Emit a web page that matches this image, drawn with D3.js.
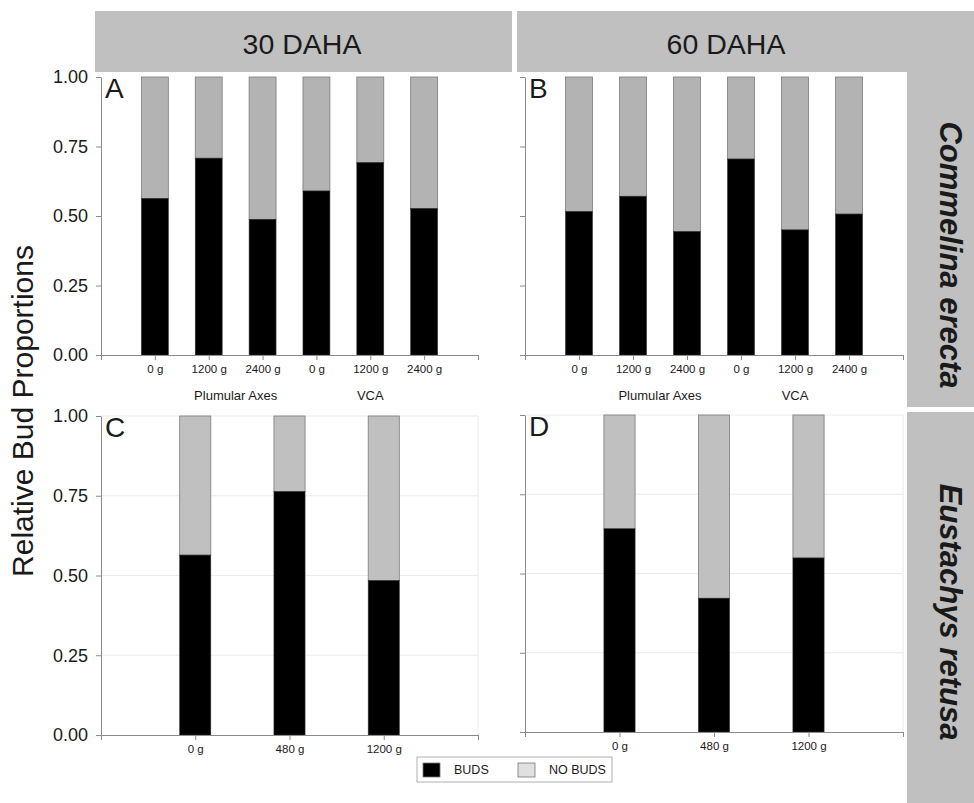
<!DOCTYPE html>
<html>
<head>
<meta charset="utf-8">
<script src="https://cdn.jsdelivr.net/npm/d3@7"></script>
<style>
  html, body { margin: 0; padding: 0; background: #fff; }
  svg { display: block; font-family: 'Liberation Sans', Arial, sans-serif; }
</style>
</head>
<body>
<script>
// Data
const doseLabelsTop = ['0 g', '1200 g', '2400 g', '0 g', '1200 g', '2400 g']
const doseLabelsBottom = ['0 g', '480 g', '1200 g']
const budsA = [0.563, 0.708, 0.488, 0.590, 0.692, 0.527]
const budsB = [0.516, 0.571, 0.444, 0.705, 0.450, 0.507]
const budsC = [0.564, 0.763, 0.484]
const budsD = [0.641, 0.422, 0.549]
const yTicks = [0, 0.25, 0.5, 0.75, 1]
const groupLabels = [{ label: 'Plumular Axes', pos: 2.5 }, { label: 'VCA', pos: 5 }]
const columnTitles = ['30 DAHA', '60 DAHA']
const rowTitles = ['Commelina erecta', 'Eustachys retusa']
const legendItems = ['BUDS', 'NO BUDS']

const W = 974
const H = 803

const svg = d3.select('body').append('svg')
  .attr('width', W)
  .attr('height', H)

// Header strips
const stripColor = '#c0c0c0'
svg.append('rect').attr('x', 95).attr('y', 11).attr('width', 417).attr('height', 61).attr('fill', stripColor)
svg.append('rect').attr('x', 517).attr('y', 11).attr('width', W - 517).attr('height', 61).attr('fill', stripColor)
svg.append('rect').attr('x', 907).attr('y', 72).attr('width', W - 907).attr('height', 335).attr('fill', stripColor)
svg.append('rect').attr('x', 907).attr('y', 412).attr('width', W - 907).attr('height', H - 412).attr('fill', stripColor)

svg.selectAll('.col-title')
  .data(columnTitles)
  .enter().append('text')
  .attr('x', (d, i) => i === 0 ? 302 : 726)
  .attr('y', 54)
  .attr('text-anchor', 'middle')
  .attr('fill', '#1a1a1a')
  .style('font-size', '28.5px')
  .text(d => d)

svg.selectAll('.row-title')
  .data(rowTitles)
  .enter().append('text')
  .attr('transform', (d, i) => `translate(940, ${i === 0 ? 255 : 612}) rotate(90)`)
  .attr('text-anchor', 'middle')
  .attr('fill', '#1a1a1a')
  .style('font-size', '31px')
  .style('font-weight', 'bold')
  .style('font-style', 'italic')
  .text(d => d)

// Y axis title
svg.append('text')
  .attr('transform', 'translate(33, 411) rotate(-90)')
  .attr('text-anchor', 'middle')
  .attr('fill', '#1a1a1a')
  .style('font-size', '30px')
  .text('Relative Bud Proportions')

const panels = [
  { letter: 'A', buds: budsA, labels: doseLabelsTop, left: 101, right: 478, top: 77, bottom: 355, barFrac: 0.5, grey: '#b3b3b3', grid: false, yLabels: true, groups: true },
  { letter: 'B', buds: budsB, labels: doseLabelsTop, left: 525, right: 903, top: 77, bottom: 355, barFrac: 0.5, grey: '#b3b3b3', grid: false, yLabels: false, groups: true },
  { letter: 'C', buds: budsC, labels: doseLabelsBottom, left: 101, right: 478, top: 416, bottom: 735, barFrac: 0.33, grey: '#c0c0c0', grid: true, yLabels: true, groups: false },
  { letter: 'D', buds: budsD, labels: doseLabelsBottom, left: 525, right: 903, top: 415, bottom: 732, barFrac: 0.33, grey: '#c0c0c0', grid: true, yLabels: false, groups: false }
]

panels.forEach(p => {
  const n = p.buds.length
  const x = d3.scaleLinear().domain([0, n + 1]).range([p.left, p.right])
  const y = d3.scaleLinear().domain([0, 1]).range([p.bottom, p.top])
  const barW = (x(1) - x(0)) * p.barFrac
  const g = svg.append('g')

  if (p.grid) {
    g.selectAll('.grid')
      .data(yTicks.filter(d => d > 0))
      .enter().append('line')
      .attr('x1', p.left).attr('x2', p.right)
      .attr('y1', d => y(d)).attr('y2', d => y(d))
      .attr('stroke', '#ebebeb')
    g.append('line')
      .attr('x1', p.right).attr('x2', p.right)
      .attr('y1', y(0)).attr('y2', y(1))
      .attr('stroke', '#ebebeb')
  }

  // stacked bars: buds (black) below, no buds (grey) above
  g.selectAll('.nobuds')
    .data(p.buds)
    .enter().append('rect')
    .attr('x', (d, i) => x(i + 1) - barW / 2)
    .attr('y', y(1))
    .attr('width', barW)
    .attr('height', d => y(d) - y(1))
    .attr('fill', p.grey)
    .attr('stroke', '#7a7a7a')
    .attr('stroke-width', 0.8)

  g.selectAll('.buds')
    .data(p.buds)
    .enter().append('rect')
    .attr('x', (d, i) => x(i + 1) - barW / 2)
    .attr('y', d => y(d))
    .attr('width', barW)
    .attr('height', d => y(0) - y(d))
    .attr('fill', '#000')
    .attr('stroke', '#333')
    .attr('stroke-width', 0.6)

  // axes
  const yAxis = d3.axisLeft(y)
    .tickValues(yTicks)
    .tickSize(5)
    .tickSizeOuter(0)
    .tickFormat(p.yLabels ? d3.format('.2f') : () => '')
  const ya = g.append('g').attr('transform', `translate(${p.left}, 0)`).call(yAxis)
  ya.select('.domain').attr('stroke', '#8a8a8a')
  ya.selectAll('.tick line').attr('stroke', '#8a8a8a')
  ya.selectAll('.tick text')
    .attr('x', -13)
    .attr('fill', '#1a1a1a')
    .style('font-size', '18px')
    .style('font-family', "'Liberation Sans', Arial, sans-serif")

  const xAxis = d3.axisBottom(x)
    .tickValues(d3.range(n + 2))
    .tickSize(5)
    .tickSizeOuter(0)
    .tickFormat(i => (i >= 1 && i <= n) ? p.labels[i - 1] : '')
  const xa = g.append('g').attr('transform', `translate(0, ${p.bottom})`).call(xAxis)
  xa.select('.domain').attr('stroke', '#8a8a8a')
  xa.selectAll('.tick line').attr('stroke', '#8a8a8a')
  xa.selectAll('.tick text')
    .attr('y', 10)
    .attr('fill', '#1a1a1a')
    .style('font-size', '11.5px')
    .style('font-family', "'Liberation Sans', Arial, sans-serif")

  if (p.groups) {
    g.selectAll('.group')
      .data(groupLabels)
      .enter().append('text')
      .attr('x', d => x(d.pos))
      .attr('y', p.bottom + 45)
      .attr('text-anchor', 'middle')
      .attr('fill', '#1a1a1a')
      .style('font-size', '13px')
      .text(d => d.label)
  }

  g.append('text')
    .attr('x', p.left + 4)
    .attr('y', p.top + 21)
    .attr('fill', '#1a1a1a')
    .style('font-size', '28px')
    .text(p.letter)
})

// Legend
const legend = svg.append('g').attr('transform', 'translate(417, 757)')
legend.append('rect')
  .attr('width', 195).attr('height', 25)
  .attr('fill', '#fff').attr('stroke', '#b0b0b0')
const legendColors = ['#000', '#e0e0e0']
const legendX = [6, 101]
legendItems.forEach((label, i) => {
  legend.append('rect')
    .attr('x', legendX[i]).attr('y', 6)
    .attr('width', 17).attr('height', 14)
    .attr('fill', legendColors[i])
    .attr('stroke', '#777')
    .attr('stroke-width', 0.8)
  legend.append('text')
    .attr('x', legendX[i] + 31).attr('y', 17)
    .attr('fill', '#1a1a1a')
    .style('font-size', '12.5px')
    .text(label)
})
</script>
</body>
</html>
